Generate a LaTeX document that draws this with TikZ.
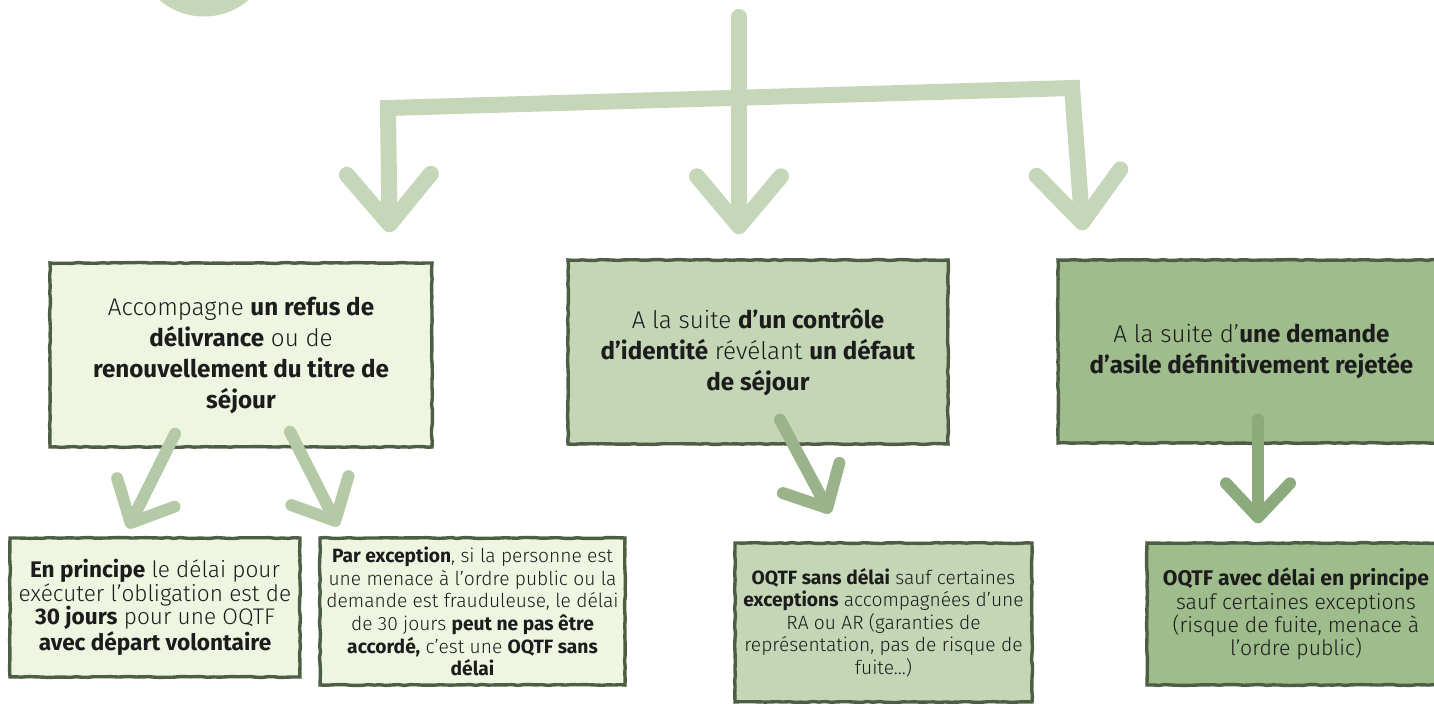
\documentclass[tikz,border=0pt]{standalone}
\usepackage{fontspec}
\setmainfont{Fira Sans Light}[BoldFont={Fira Sans Bold}]
\usetikzlibrary{arrows.meta,decorations.pathmorphing}

\definecolor{stalk}{HTML}{C5D6B9}
\definecolor{stalkmid}{HTML}{B4C9A5}
\definecolor{stalkdark}{HTML}{9BB38B}
\definecolor{stalkdeep}{HTML}{8CAB7C}
\definecolor{leafpale}{HTML}{EEF5E1}
\definecolor{leafmid}{HTML}{C4D6B6}
\definecolor{leafdark}{HTML}{9EBC8C}
\definecolor{pencil}{HTML}{4D5E44}
\definecolor{ink}{HTML}{1C1C1C}

\begin{document}
\begin{tikzpicture}[x=0.5pt,y=-0.5pt,thick,
    sketch box/.style={draw=pencil,line width=1.7pt,inner sep=0pt,align=center,text=ink,
      decorate,decoration={random steps,segment length=3pt,amplitude=0.25pt}},
    top box/.style={sketch box,font=\fontsize{12.1}{15.5}\selectfont},
    low box/.style={sketch box,font=\fontsize{9.6}{11.3}\selectfont},
    big arrow/.style={draw=stalk,line width=8pt,line cap=round,
      -{Straight Barb[length=25pt,width=42pt,round]}},
    small arrow/.style={line width=6pt,line cap=round,
      -{Straight Barb[length=17pt,width=32pt,round]}}]
    \useasboundingbox (0,0) rectangle (1434,704);

    % disc at the top
    \fill[stalk] (204,-52) circle[radius=34.25pt];

    % boxes
    \node[top box,fill=leafpale,minimum width=191pt,minimum height=92pt] at (241,355) (a)
        {Accompagne \textbf{un refus de}\\ \textbf{délivrance} ou de\\ \textbf{renouvellement du titre de}\\ \textbf{séjour}};
    \node[top box,fill=leafmid,minimum width=190pt,minimum height=92pt] at (758,352) (b)
        {A la suite \textbf{d’un contrôle}\\ \textbf{d’identité} révélant \textbf{un défaut}\\ \textbf{de séjour}};
    \node[top box,fill=leafdark,minimum width=193.5pt,minimum height=91.5pt] at (1251.5,351.5) (c)
        {A la suite d’\textbf{une demande}\\ \textbf{d’asile définitivement rejetée}};
    \node[low box,font=\fontsize{11.3}{11.8}\selectfont,fill=leafpale,minimum width=145pt,minimum height=69.5pt] at (155,607.5) (d)
        {\textbf{En principe} le délai pour\\ exécuter l’obligation est de\\ \textbf{30 jours} pour une OQTF\\ \textbf{avec départ volontaire}};
    \node[low box,fill=leafpale,minimum width=152.5pt,minimum height=73.5pt] at (472.5,611.5) (e)
        {\textbf{Par exception}, si la personne est\\ une menace à l’ordre public ou la\\ demande est frauduleuse, le délai\\ de 30 jours \textbf{peut ne pas être}\\ \textbf{accordé,} c’est une \textbf{OQTF sans}\\ \textbf{délai}};
    \node[low box,fill=leafmid,minimum width=148.5pt,minimum height=79.5pt] at (883.5,622.5) (f)
        {\textbf{OQTF sans délai} sauf certaines\\ \textbf{exceptions} accompagnées d’une\\ RA ou AR (garanties de\\ représentation, pas de risque de\\ fuite...)};
    \node[low box,font=\fontsize{10.6}{11.6}\selectfont,fill=leafdark,minimum width=149pt,minimum height=71pt] at (1296,614) (g)
        {\textbf{OQTF avec délai en principe}\\ sauf certaines exceptions\\ (risque de fuite, menace à\\ l’ordre public)};

    % branching stroke
    \coordinate (top) at (739,17);
    \coordinate (jl) at (388,108);
    \coordinate (jr) at (1072,88);
    \draw[stalk,line width=8pt,line cap=rect] (jl) -- (jr);
    \draw[big arrow] (top) -- (top |- b.north) [shorten >=12pt];
    \draw[big arrow,shorten >=14.5pt] (jl) -- ([shift={(2,0)}]jl |- a.north);
    \draw[big arrow,shorten >=14pt] (jr) -- ([shift={(13,0)}]jr |- c.north);

    % arrows between the boxes
    \draw[small arrow,draw=stalkmid] ([shift={(-66,-15)}]a.south) -- ([shift={(-27,-8)}]d.north);
    \draw[small arrow,draw=stalkmid] ([shift={(49,-17)}]a.south) -- ([shift={(-134.5,-10)}]e.north);
    \draw[small arrow,draw=stalkdark] ([shift={(22,-26)}]b.south) -- ([shift={(-53.5,-28)}]f.north);
    \draw[small arrow,draw=stalkdeep] ([shift={(6.5,-25)}]c.south) -- ([shift={(-38,-18)}]g.north);
\end{tikzpicture}
\end{document}
